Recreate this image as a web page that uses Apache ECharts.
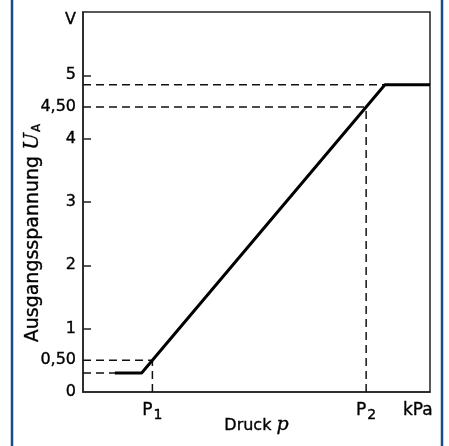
<!DOCTYPE html>
<html><head><meta charset="utf-8">
<script src="https://cdn.jsdelivr.net/npm/echarts@6/dist/echarts.min.js"></script>
<style>html,body{margin:0;padding:0;background:#fff}#c{width:449px;height:446px}</style>
</head><body><div id="c"></div>
<script>
// Data
const curveX = [9.2, 16.9, 20, 81.6, 87, 100];
const curveY = [0.3, 0.3, 0.5, 4.5, 4.85, 4.85];
const guideH = [[16.9, 0.3], [20, 0.5], [81.6, 4.5], [87, 4.85]]; // horizontal dashed to these points
const guideV = [[20, 0.5], [81.6, 4.5]]; // vertical dashed from these points to x axis
const yLabelValues = [0, 0.5, 1, 2, 3, 4, 4.5, 5, 6];
const yLabelTexts = ['0', '0,50', '1', '2', '3', '4', '4,50', '5', 'V'];
const yTickValues = [1, 2, 3, 4, 5];
const xLabelValues = [20, 81.6, 96.5];
const xLabelTexts = ['P{s|1}', 'P{s|2}', '{k|kPa}'];

const FONT = 'DejaVu Sans';
const TXT = {color:'#000', textBorderColor:'#000', textBorderWidth:0.35};
const series = [];
guideH.forEach(p => series.push({type:'line', data:[[0,p[1]],[p[0],p[1]]], symbol:'none', silent:true,
  lineStyle:{color:'#111', width:1.5, type:[8,5]}}));
guideV.forEach(p => series.push({type:'line', data:[[p[0],0],[p[0],p[1]]], symbol:'none', silent:true,
  lineStyle:{color:'#111', width:1.5, type:[8,5]}}));
series.push({type:'line', data: curveX.map((x,i)=>[x, curveY[i]]), symbol:'none', z:5,
  lineStyle:{color:'#000', width:3}});

const chart = echarts.init(document.getElementById('c'));
chart.setOption({
  animation:false,
  backgroundColor:'#fff',
  grid:{left:83, right:19, top:12, bottom:54, show:true, borderColor:'#222', borderWidth:1.5},
  xAxis:{type:'value', min:0, max:100,
    axisLine:{show:true, lineStyle:{color:'#222', width:1.5}},
    axisTick:{show:false}, splitLine:{show:false},
    axisLabel:Object.assign({customValues:xLabelValues, margin:7, verticalAlign:'top',
      formatter:(v)=>{const i=xLabelValues.indexOf(v); return i>=0?xLabelTexts[i]:'';},
      fontFamily:FONT, fontSize:17,
      rich:{s:Object.assign({fontFamily:FONT, fontSize:14, padding:[9,0,0,1], verticalAlign:'top'}, TXT),
            k:Object.assign({fontFamily:FONT, fontSize:17, padding:[3,0,0,0]}, TXT)}}, TXT),
    name:'Druck {i|p}', nameLocation:'middle', nameGap:24, nameMoveOverlap:false,
    nameTextStyle:Object.assign({fontFamily:FONT, fontSize:16,
      rich:{i:Object.assign({fontFamily:'DejaVu Serif', fontStyle:'italic', fontSize:19}, TXT)}}, TXT)
  },
  yAxis:{type:'value', min:0, max:6, interval:1,
    axisLine:{show:true, lineStyle:{color:'#222', width:1.5}},
    axisTick:{show:true, inside:true, length:8, customValues:yTickValues, lineStyle:{color:'#222', width:1.5}},
    splitLine:{show:false},
    axisLabel:Object.assign({customValues:yLabelValues, margin:7, fontFamily:FONT, fontSize:16,
      formatter:(v)=>{const i=yLabelValues.indexOf(v); if(i<0) return ''; const t=yLabelTexts[i]; return v===6?'{v|'+t+'}':t;},
      rich:{v:Object.assign({fontFamily:FONT, fontSize:16, padding:[16,0,0,0]}, TXT)}}, TXT),
    name:'Ausgangsspannung {u|U}{a|A}', nameLocation:'middle', nameGap:40, nameMoveOverlap:false,
    nameTextStyle:Object.assign({fontFamily:FONT, fontSize:19, padding:[0,62,0,0],
      rich:{u:Object.assign({fontFamily:'DejaVu Serif', fontStyle:'italic', fontSize:20}, TXT),
            a:Object.assign({fontFamily:FONT, fontSize:12, padding:[7,0,0,1]}, TXT)}}, TXT)
  },
  graphic:[{type:'rect', shape:{x:12, y:-10, width:430, height:480, r:4}, silent:true, z:-1,
    style:{fill:'none', stroke:'#1a4a8a', lineWidth:2.5}}],
  series
});
</script></body></html>
